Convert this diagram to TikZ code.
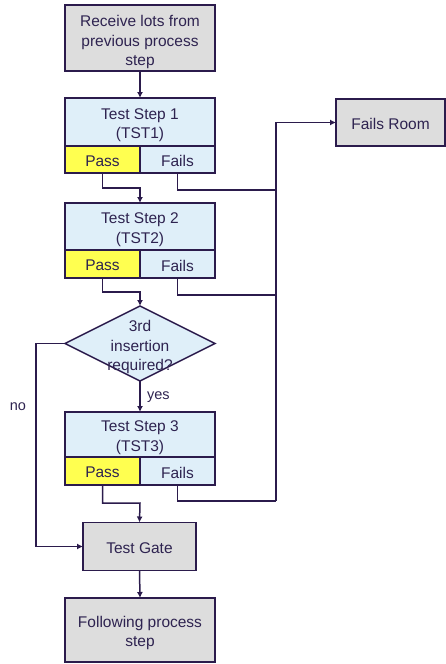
\documentclass[tikz,border=0pt]{standalone}
\usepackage{fontspec}
\setmainfont{Liberation Sans}
\usetikzlibrary{arrows.meta}
\definecolor{edge}{HTML}{2B1B4C}
\definecolor{ink}{HTML}{2E2350}
\definecolor{grayfill}{HTML}{DDDDDD}
\definecolor{bluefill}{HTML}{DFEFF9}
\definecolor{yellowfill}{HTML}{FFFF50}
\begin{document}
\begin{tikzpicture}[x=1pt,y=-1pt,
  every node/.style={font=\fontsize{15.5}{19.5}\selectfont, text=ink, inner sep=0pt, outer sep=0pt},
  box/.style={draw=edge, line width=1.5pt, rectangle},
  graybox/.style={box, fill=grayfill},
  bluebox/.style={box, fill=bluefill},
  passbox/.style={box, fill=yellowfill},
  txt/.style={align=center},
  link/.style={draw=edge, line width=1.5pt},
  arr/.style={link, -{Latex[length=6pt,width=6pt]}},
  lbl/.style={font=\fontsize{14.5}{17}\selectfont}]
\useasboundingbox (0,0) rectangle (446,664);
% boxes
\node[graybox, minimum width=150, minimum height=66] (recv) at (140,38) {};
\node[txt] (recvT) at ([yshift=-4pt]recv.center) {Receive lots from\\previous process\\step};
\node[bluebox, minimum width=150, minimum height=48] (t1) at (140,122) {};
\node[txt] (t1T) at ([yshift=-3pt]t1.center) {Test Step 1\\(TST1)};
\node[passbox, minimum width=75, minimum height=27] (t1p) at (102.5,159.5) {};
\node[txt] (t1pT) at ([yshift=-1.5pt]t1p.center) {Pass};
\node[bluebox, minimum width=75, minimum height=27] (t1f) at (177.5,159.5) {};
\node[txt] (t1fT) at ([yshift=-1.5pt]t1f.center) {Fails};
\node[graybox, minimum width=109, minimum height=47] (room) at (390.5,122.5) {};
\node[txt] (roomT) at ([yshift=-1.5pt]room.center) {Fails Room};
\node[bluebox, minimum width=150, minimum height=47] (t2) at (140,226.5) {};
\node[txt] (t2T) at ([yshift=-3pt]t2.center) {Test Step 2\\(TST2)};
\node[passbox, minimum width=75, minimum height=28] (t2p) at (102.5,264) {};
\node[txt] (t2pT) at ([yshift=-1.5pt]t2p.center) {Pass};
\node[bluebox, minimum width=75, minimum height=28] (t2f) at (177.5,264) {};
\node[txt] (t2fT) at ([yshift=-1.5pt]t2f.center) {Fails};
% decision diamond
\coordinate (decN) at (140,306);
\coordinate (decS) at (140,381);
\coordinate (decW) at (65,343.5);
\coordinate (decE) at (215,343.5);
\draw[draw=edge, line width=1.5pt, fill=bluefill, line join=miter] (decN) -- (decE) -- (decS) -- (decW) -- cycle;
\node[txt] (dec) at (140,347) {3rd\\insertion\\required?};
\node[bluebox, minimum width=150, minimum height=45] (t3) at (140,434.5) {};
\node[txt] (t3T) at ([yshift=-3pt]t3.center) {Test Step 3\\(TST3)};
\node[passbox, minimum width=75, minimum height=28] (t3p) at (102.5,471) {};
\node[txt] (t3pT) at ([yshift=-1.5pt]t3p.center) {Pass};
\node[bluebox, minimum width=75, minimum height=28] (t3f) at (177.5,471) {};
\node[txt] (t3fT) at ([yshift=-1.5pt]t3f.center) {Fails};
\node[graybox, minimum width=113, minimum height=48] (gate) at (139.5,546.5) {};
\node[txt] (gateT) at ([yshift=-1.5pt]gate.center) {Test Gate};
\node[graybox, minimum width=150, minimum height=64] (follow) at (140,630) {};
\node[txt] (followT) at ([yshift=-3pt]follow.center) {Following process\\step};
% labels
\node[lbl, anchor=west] (yes) at (147,397) {yes};
\node[lbl] (no) at (18,407) {no};
% coordinates
\coordinate (trunkTop) at (276,122.5);
\coordinate (trunkBot) at (276,501);
\coordinate (noCorner) at (36,343.5);
% connectors
\draw[arr] (recv.south) -- (t1.north);
\draw[arr] (t1p.south) |- (140,188) -- (t2.north);
\draw[link] (t1f.south) |- (276,190);
\draw[link] (t2f.south) |- (276,295);
\draw[link] (t3f.south) |- (trunkBot);
\draw[arr] (trunkBot) -- (trunkTop) -- (room.west);
\draw[arr] (t2p.south) |- (140,292) -- (decN);
\draw[arr] (decS) -- (t3.north);
\draw[arr] (t3p.south) |- (140,503) -- (gate.north);
\draw[arr] (decW) -- (noCorner) |- (gate.west);
\draw[arr] (gate.south) -- (follow.north);
\end{tikzpicture}
\end{document}
